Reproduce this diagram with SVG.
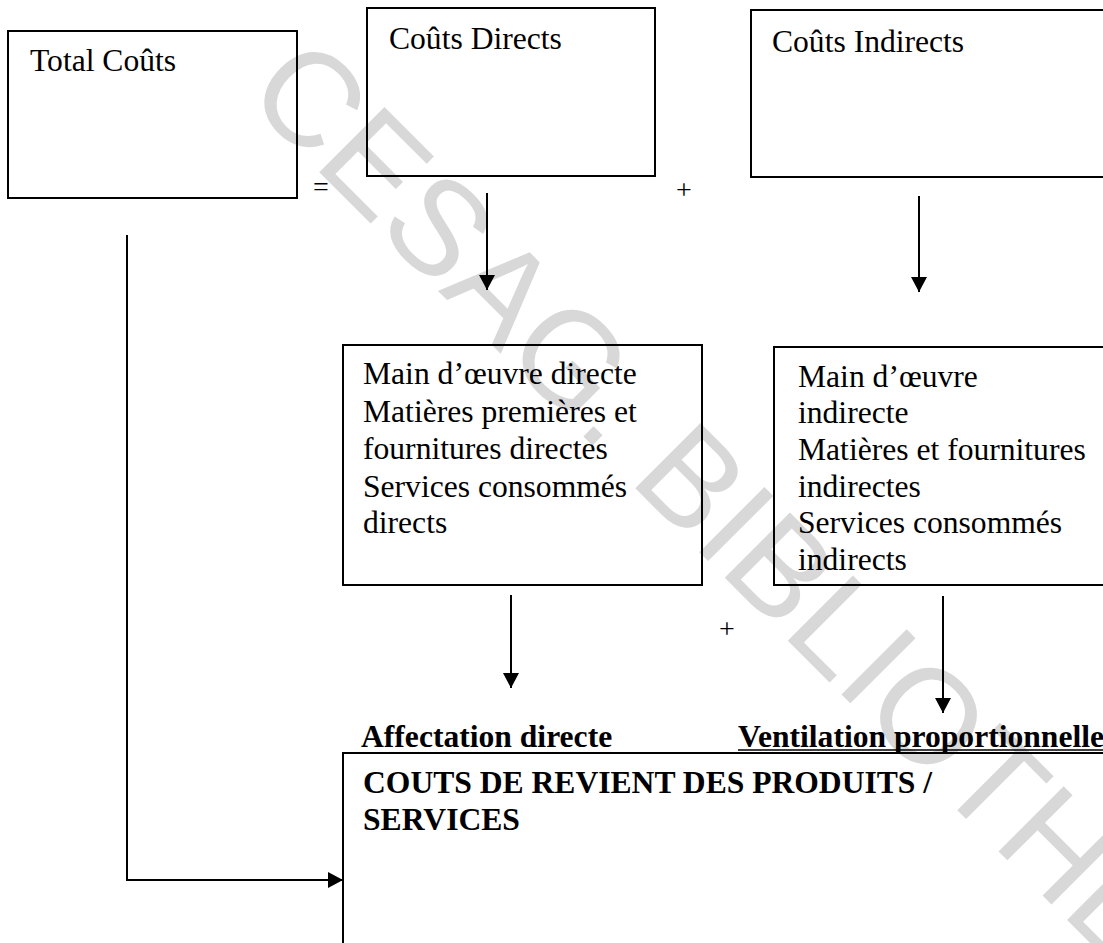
<svg xmlns="http://www.w3.org/2000/svg" width="1103" height="943" viewBox="0 0 1103 943">
  <defs>
    <style>
      .box { fill: none; stroke: #000; stroke-width: 2; }
      .txt { font-family: "Liberation Serif", "Times New Roman", serif; font-size: 31.6px; fill: #000; }
      .bold { font-weight: bold; }
      .op { font-family: "Liberation Serif", "Times New Roman", serif; font-size: 28px; fill: #000; text-anchor: middle; }
      .link { fill: none; stroke: #000; stroke-width: 2; }
      .stamp { font-family: "Liberation Sans", Arial, sans-serif; font-size: 134px; fill: #d8d8d8; }
    </style>
    <marker id="arrow" viewBox="0 0 10 10" refX="10" refY="5" markerUnits="userSpaceOnUse" markerWidth="15" markerHeight="16" preserveAspectRatio="none" orient="auto">
      <path d="M0,0 L10,5 L0,10 z" fill="#000"/>
    </marker>
  </defs>

  <rect width="1103" height="943" fill="#fff"/>

  <!-- background stamp -->
  <text class="stamp" transform="translate(243,96) rotate(45)">CESAG. BIBLIOTHEQUE</text>

  <!-- top row -->
  <g id="total">
    <rect class="box" x="8" y="31" width="289" height="167"/>
    <text class="txt" x="30" y="71">Total Coûts</text>
  </g>
  <g id="directs">
    <rect class="box" x="367" y="8" width="288" height="168"/>
    <text class="txt" x="389" y="49">Coûts Directs</text>
  </g>
  <g id="indirects">
    <rect class="box" x="751" y="10" width="400" height="167"/>
    <text class="txt" x="772" y="52">Coûts Indirects</text>
  </g>

  <!-- operators -->
  <g id="operators">
    <text class="op" x="321" y="196" font-size="24">=</text>
    <text class="op" x="684" y="199">+</text>
    <text class="op" x="727" y="638">+</text>
  </g>

  <!-- detail boxes -->
  <g id="direct-items">
    <rect class="box" x="343" y="345" width="359" height="240"/>
    <text class="txt">
      <tspan x="363" y="384">Main d’œuvre directe</tspan>
      <tspan x="363" y="422">Matières premières et</tspan>
      <tspan x="363" y="459">fournitures directes</tspan>
      <tspan x="363" y="497">Services consommés</tspan>
      <tspan x="363" y="533">directs</tspan>
    </text>
  </g>
  <g id="indirect-items">
    <rect class="box" x="774" y="347" width="400" height="238"/>
    <text class="txt">
      <tspan x="798" y="387">Main d’œuvre</tspan>
      <tspan x="798" y="423">indirecte</tspan>
      <tspan x="798" y="460">Matières et fournitures</tspan>
      <tspan x="798" y="497">indirectes</tspan>
      <tspan x="798" y="533">Services consommés</tspan>
      <tspan x="798" y="570">indirects</tspan>
    </text>
  </g>

  <!-- labels above the result box -->
  <g id="labels">
    <text class="txt bold" x="361" y="747">Affectation directe</text>
    <text class="txt bold" x="738" y="747">Ventilation proportionnelle</text>
    <line x1="738" y1="750" x2="1103" y2="750" stroke="#000" stroke-width="1.5"/>
  </g>

  <!-- result box -->
  <g id="cost-price">
    <rect class="box" x="343" y="753" width="800" height="300"/>
    <text class="txt bold">
      <tspan x="363" y="793">COUTS DE REVIENT DES PRODUITS /</tspan>
      <tspan x="363" y="830">SERVICES</tspan>
    </text>
  </g>

  <!-- connectors -->
  <g id="connectors">
    <line class="link" x1="487" y1="193" x2="487" y2="290" marker-end="url(#arrow)"/>
    <line class="link" x1="919" y1="196" x2="919" y2="292" marker-end="url(#arrow)"/>
    <line class="link" x1="511" y1="595" x2="511" y2="688" marker-end="url(#arrow)"/>
    <line class="link" x1="943" y1="596" x2="943" y2="713" marker-end="url(#arrow)"/>
    <path class="link" d="M127,235 V880 H343" marker-end="url(#arrow)"/>
  </g>
</svg>
